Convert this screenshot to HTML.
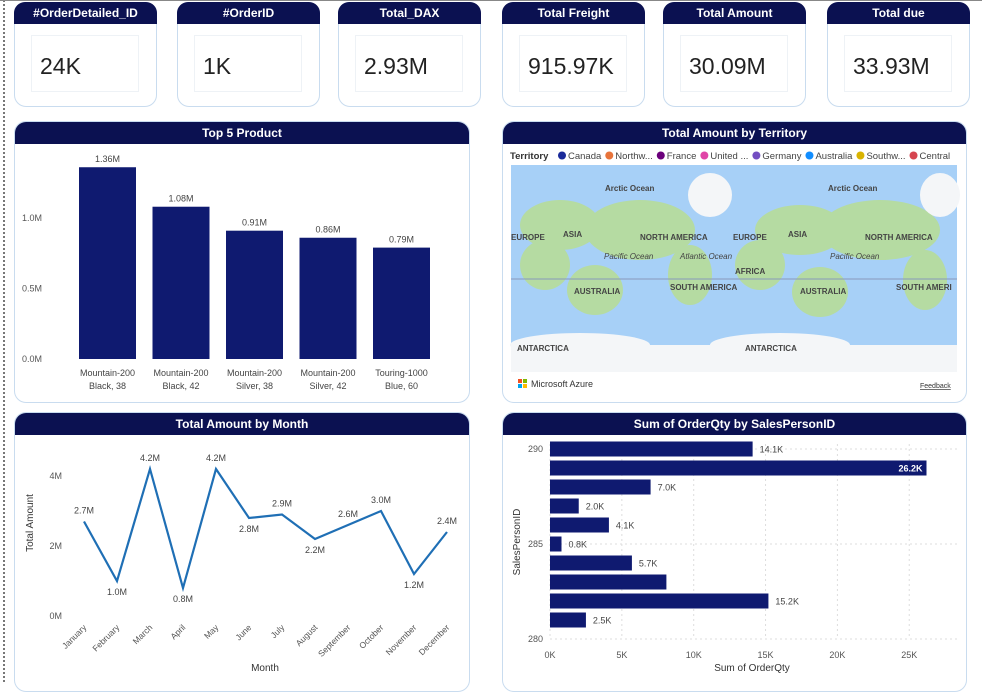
<!DOCTYPE html>
<html><head><meta charset="utf-8"><style>
body{margin:0;width:982px;height:682px;background:#fff;font-family:"Liberation Sans",sans-serif;position:relative;overflow:hidden}
.card{position:absolute;background:#fff;border:1px solid #c9dcef;border-radius:12px;box-sizing:border-box}
.hd{position:absolute;left:0;right:0;top:0;height:22px;background:#0b1151;color:#fff;font-weight:bold;font-size:12px;text-align:center;line-height:22px;border-radius:11px 11px 0 0}
.inner{position:absolute;border:1px solid #eef2f6}
.val{position:absolute;font-size:23px;color:#222}
svg text{font-family:"Liberation Sans",sans-serif}
</style></head><body>
<div style="position:absolute;left:3px;top:0;height:682px;border-left:2px dotted #777"></div>
<div style="position:absolute;left:0;top:0;width:982px;border-top:1px solid #888"></div>
<div id="kpis"></div>
<div class="card" style="left:14px;top:121px;width:456px;height:282px"><div class="hd">Top 5 Product</div></div>
<div class="card" style="left:502px;top:121px;width:465px;height:282px"><div class="hd">Total Amount by Territory</div></div>
<div class="card" style="left:14px;top:412px;width:456px;height:280px"><div class="hd">Total Amount by Month</div></div>
<div class="card" style="left:502px;top:412px;width:465px;height:280px"><div class="hd">Sum of OrderQty by SalesPersonID</div></div>
<svg id="s" width="982" height="682" style="position:absolute;left:0;top:0">
<g>
<rect x="511" y="165" width="446" height="207" fill="#a7d0f7"/>
<g fill="#b5dba2">
<ellipse cx="640" cy="230" rx="55" ry="30"/><ellipse cx="560" cy="225" rx="40" ry="25"/><ellipse cx="595" cy="290" rx="28" ry="25"/><ellipse cx="690" cy="275" rx="22" ry="30"/><ellipse cx="545" cy="265" rx="25" ry="25"/>
<ellipse cx="880" cy="230" rx="60" ry="30"/><ellipse cx="800" cy="230" rx="45" ry="25"/><ellipse cx="820" cy="292" rx="28" ry="25"/><ellipse cx="925" cy="280" rx="22" ry="30"/><ellipse cx="760" cy="265" rx="25" ry="25"/>
</g>
<g fill="#f4f6f8"><ellipse cx="710" cy="195" rx="22" ry="22"/><ellipse cx="940" cy="195" rx="20" ry="22"/><rect x="511" y="345" width="446" height="27"/><ellipse cx="580" cy="345" rx="70" ry="12"/><ellipse cx="780" cy="345" rx="70" ry="12"/></g>
<line x1="511" y1="279" x2="957" y2="279" stroke="#8899bb" stroke-width="1"/>
<g font-size="8" fill="#444" font-weight="bold"><text x="605" y="191">Arctic Ocean</text><text x="828" y="191">Arctic Ocean</text><text x="563" y="237">ASIA</text><text x="788" y="237">ASIA</text><text x="640" y="240">NORTH AMERICA</text><text x="865" y="240">NORTH AMERICA</text><text x="511" y="240">EUROPE</text><text x="733" y="240">EUROPE</text><text x="735" y="274">AFRICA</text><text x="574" y="294">AUSTRALIA</text><text x="800" y="294">AUSTRALIA</text><text x="670" y="290">SOUTH AMERICA</text><text x="896" y="290">SOUTH AMERI</text><text x="517" y="351">ANTARCTICA</text><text x="745" y="351">ANTARCTICA</text><text x="604" y="259" font-style="italic" font-weight="normal">Pacific Ocean</text><text x="830" y="259" font-style="italic" font-weight="normal">Pacific Ocean</text><text x="680" y="259" font-style="italic" font-weight="normal">Atlantic Ocean</text></g>
<g><rect x="518" y="379" width="4" height="4" fill="#f25022"/><rect x="523" y="379" width="4" height="4" fill="#7fba00"/><rect x="518" y="384" width="4" height="4" fill="#00a4ef"/><rect x="523" y="384" width="4" height="4" fill="#ffb900"/><text x="531" y="387" font-size="9" fill="#333">Microsoft Azure</text></g>
<text x="920" y="388" font-size="7" fill="#333" text-decoration="underline">Feedback</text>
</g>
<g id="legend"></g>
<g id="top5"></g><g id="month"></g><g id="sp"></g>
</svg>
<script>
const NS="http://www.w3.org/2000/svg";
const S=document.getElementById('s');
function T(p,x,y,t,o){const e=document.createElementNS(NS,'text');e.setAttribute('x',x);e.setAttribute('y',y);e.textContent=t;for(const k in o)e.setAttribute(k,o[k]);p.appendChild(e);return e}
function E(p,tag,o){const e=document.createElementNS(NS,tag);for(const k in o)e.setAttribute(k,o[k]);p.appendChild(e);return e}
// KPI
const kpiTitles=["#OrderDetailed_ID","#OrderID","Total_DAX","Total Freight","Total Amount","Total due"];
const kpiValues=["24K","1K","2.93M","915.97K","30.09M","33.93M"];
const kx=[14,177,338,502,663,827];
const K=document.getElementById('kpis');
kpiTitles.forEach((t,i)=>{const c=document.createElement('div');c.className='card';c.style.cssText=`left:${kx[i]}px;top:2px;width:143px;height:105px`;


c.innerHTML=`<div class="hd" style="left:-1px;right:-1px;top:-1px">${t}</div><div class="inner" style="left:16px;top:32px;width:106px;height:55px"></div><div class="val" style="left:25px;top:50px">${kpiValues[i]}</div>`;K.appendChild(c)});
// legend
const terr=["Canada","Northw...","France","United ...","Germany","Australia","Southw...","Central"];
const terrCol=["#1a2a9a","#e8743b","#6b007b","#e044a7","#744ec2","#118dff","#d9b300","#d64550"];
const LG=document.getElementById('legend');
T(LG,510,159,"Territory",{'font-size':9.5,'font-weight':'bold',fill:'#333'});
let lx=558;terr.forEach((t,i)=>{const c=E(LG,'circle',{cx:lx+4,cy:155.5,r:4,fill:terrCol[i]});


const tt=T(LG,lx+10,159,t,{'font-size':9.5,fill:'#444'});lx+=10+tt.getComputedTextLength()+4;});
// top5
const prodL1=["Mountain-200","Mountain-200","Mountain-200","Mountain-200","Touring-1000"];
const prodL2=["Black, 38","Black, 42","Silver, 38","Silver, 42","Blue, 60"];
const prodVals=[1.36,1.08,0.91,0.86,0.79];
const prodLabels=["1.36M","1.08M","0.91M","0.86M","0.79M"];
const yTicks5=[0,0.5,1.0];const yTick5L=["0.0M","0.5M","1.0M"];
const G5=document.getElementById('top5');
const y5=v=>359-v*141, x5=i=>79+i*73.5;
yTicks5.forEach((v,i)=>T(G5,42,y5(v)+3,yTick5L[i],{'font-size':9,fill:'#555','text-anchor':'end'}));
prodVals.forEach((v,i)=>{const r=E(G5,'rect',{x:x5(i),y:y5(v),width:57,height:v*141,fill:'#0f1a70'});


T(G5,x5(i)+28.5,y5(v)-5,prodLabels[i],{'font-size':9,fill:'#444','text-anchor':'middle'});
T(G5,x5(i)+28.5,376,prodL1[i],{'font-size':9,fill:'#444','text-anchor':'middle'});
T(G5,x5(i)+28.5,389,prodL2[i],{'font-size':9,fill:'#444','text-anchor':'middle'});});
// month
const months=["January","February","March","April","May","June","July","August","September","October","November","December"];
const monthVals=[2.7,1.0,4.2,0.8,4.2,2.8,2.9,2.2,2.6,3.0,1.2,2.4];
const monthLabels=["2.7M","1.0M","4.2M","0.8M","4.2M","2.8M","2.9M","2.2M","2.6M","3.0M","1.2M","2.4M"];
const mTicks=[0,2,4];const mTickL=["0M","2M","4M"];
const GM=document.getElementById('month');
const ym=v=>616-v*35, xm=i=>84+i*33.0;
mTicks.forEach((v,i)=>T(GM,62,ym(v)+3,mTickL[i],{'font-size':9,fill:'#555','text-anchor':'end'}));
const pl=E(GM,'polyline',{points:monthVals.map((v,i)=>xm(i)+','+ym(v)).join(' '),fill:'none',stroke:'#1f6fb5','stroke-width':2.2});


monthVals.forEach((v,i)=>{const up=i==0||i==2||i==4||i==6||i==8||i==9||i==11;
T(GM,xm(i),up?ym(v)-8:ym(v)+14,monthLabels[i],{'font-size':9,fill:'#444','text-anchor':'middle'});
T(GM,0,0,months[i],{'font-size':8.5,fill:'#555','text-anchor':'end',transform:`translate(${xm(i)+3},${628}) rotate(-45)`});});
T(GM,265,671,"Month",{'font-size':10,fill:'#333','text-anchor':'middle'});
T(GM,0,0,"Total Amount",{'font-size':10,fill:'#333','text-anchor':'middle',transform:'translate(33,523) rotate(-90)'});
// salesperson
const spVals=[14.1,26.2,7.0,2.0,4.1,0.8,5.7,8.1,15.2,2.5];
const spLabels=["14.1K","26.2K","7.0K","2.0K","4.1K","0.8K","5.7K","","15.2K","2.5K"];
const spTicks=[0,5,10,15,20,25];const spTickL=["0K","5K","10K","15K","20K","25K"];
const yLabs=[[0,"290"],[5,"285"],[10,"280"]];
const GS=document.getElementById('sp');
const xs=v=>550+v*14.37, ys=i=>449+i*19;
spTicks.forEach((v,i)=>{E(GS,'line',{x1:xs(v),x2:xs(v),y1:444,y2:638,stroke:'#ddd','stroke-dasharray':'2,3'});T(GS,xs(v),658,spTickL[i],{'font-size':9,fill:'#555','text-anchor':'middle'})});
yLabs.forEach(([i,l])=>{E(GS,'line',{x1:550,x2:957,y1:ys(i),y2:ys(i),stroke:'#ddd','stroke-dasharray':'2,3'});T(GS,543,ys(i)+3,l,{'font-size':9,fill:'#555','text-anchor':'end'})});
spVals.forEach((v,i)=>{const r=E(GS,'rect',{x:550,y:ys(i)-7.5,width:xs(v)-550,height:15,fill:'#0f1a70'});


if(spLabels[i]){if(v>24)T(GS,xs(v)-4,ys(i)+3.5,spLabels[i],{'font-size':9,fill:'#fff','font-weight':'bold','text-anchor':'end'});else T(GS,xs(v)+7,ys(i)+3.5,spLabels[i],{'font-size':9,fill:'#444'});}});
T(GS,752,671,"Sum of OrderQty",{'font-size':10,fill:'#333','text-anchor':'middle'});
T(GS,0,0,"SalesPersonID",{'font-size':10,fill:'#333','text-anchor':'middle',transform:'translate(520,542) rotate(-90)'});
</script>
</body></html>
